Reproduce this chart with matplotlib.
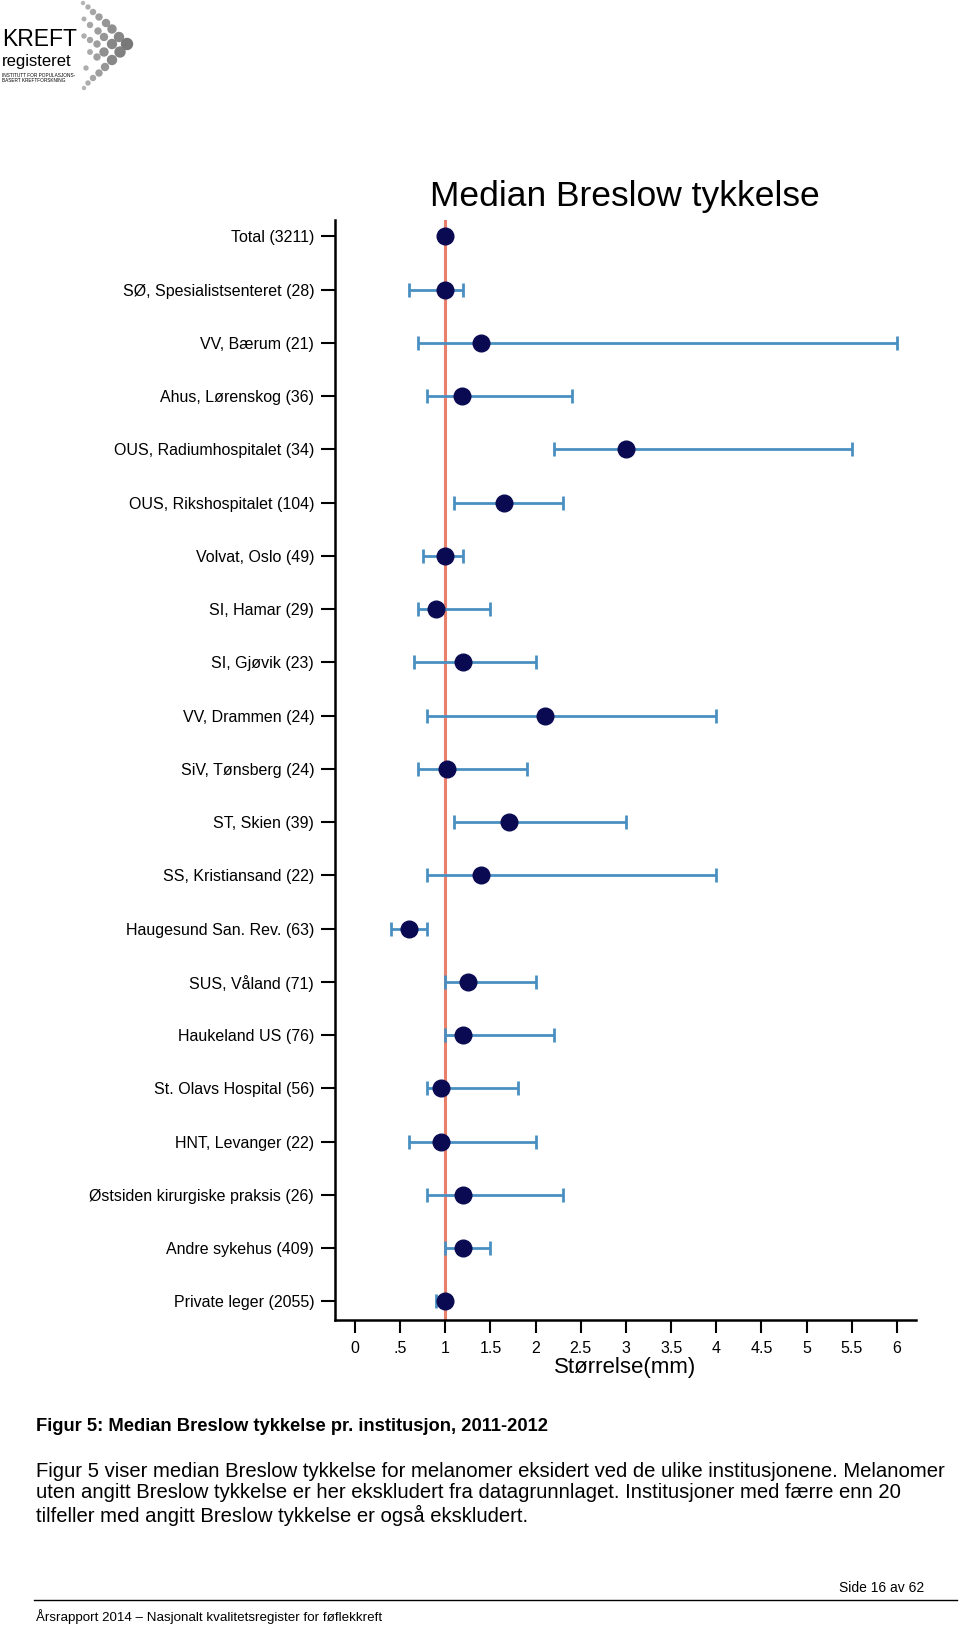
import matplotlib.pyplot as plt
import numpy as np

# Data
institutions = ['Total (3211)', 'SØ, Spesialistsenteret (28)', 'VV, Bærum (21)',
                'Ahus, Lørenskog (36)', 'OUS, Radiumhospitalet (34)',
                'OUS, Rikshospitalet (104)', 'Volvat, Oslo (49)', 'SI, Hamar (29)',
                'SI, Gjøvik (23)', 'VV, Drammen (24)', 'SiV, Tønsberg (24)',
                'ST, Skien (39)', 'SS, Kristiansand (22)', 'Haugesund San. Rev. (63)',
                'SUS, Våland (71)', 'Haukeland US (76)', 'St. Olavs Hospital (56)',
                'HNT, Levanger (22)', 'Østsiden kirurgiske praksis (26)',
                'Andre sykehus (409)', 'Private leger (2055)']
median = [1.0, 1.0, 1.4, 1.18, 3.0, 1.65, 1.0, 0.9, 1.2, 2.1, 1.02, 1.7, 1.4,
          0.6, 1.25, 1.2, 0.95, 0.95, 1.2, 1.2, 1.0]
ci_low = [1.0, 0.6, 0.7, 0.8, 2.2, 1.1, 0.75, 0.7, 0.65, 0.8, 0.7, 1.1, 0.8,
          0.4, 1.0, 1.0, 0.8, 0.6, 0.8, 1.0, 0.9]
ci_high = [1.0, 1.2, 6.0, 2.4, 5.5, 2.3, 1.2, 1.5, 2.0, 4.0, 1.9, 3.0, 4.0,
           0.8, 2.0, 2.2, 1.8, 2.0, 2.3, 1.5, 1.0]
xticks = [0, 0.5, 1, 1.5, 2, 2.5, 3, 3.5, 4, 4.5, 5, 5.5, 6]
xticklabels = ['0', '.5', '1', '1.5', '2', '2.5', '3', '3.5', '4', '4.5', '5', '5.5', '6']

plt.rcParams['font.family'] = ['Liberation Sans', 'DejaVu Sans']

fig = plt.figure(figsize=(9.6, 16.27), dpi=100)
ax = fig.add_axes([0.349, 0.1887, 0.605, 0.6761])

y = np.arange(len(institutions))
med = np.array(median)
xerr = [med - np.array(ci_low), np.array(ci_high) - med]

ax.axvline(1, color='#E8806C', lw=2.2, zorder=1)
ax.errorbar(med, y, xerr=xerr, fmt='none', ecolor='#4A8FC2', elinewidth=2,
            capsize=5, capthick=2, zorder=2)
ax.plot(med, y, 'o', color='#0A0A52', markersize=12, zorder=3)

ax.set_xlim(-0.221, 6.21)
ax.set_ylim(20.35, -0.31)
ax.set_yticks(y)
ax.set_yticklabels(institutions, fontsize=11.5)
ax.set_xticks(xticks)
ax.set_xticklabels(xticklabels, fontsize=11.5)
ax.tick_params(axis='y', length=10, width=1.5, pad=5)
ax.tick_params(axis='x', length=9, width=1.5, pad=6)
for s in ['top', 'right']:
    ax.spines[s].set_visible(False)
for s in ['left', 'bottom']:
    ax.spines[s].set_linewidth(1.8)
ax.set_xlabel('Størrelse(mm)', fontsize=16, labelpad=1)
fig.text(0.651, 0.8795, 'Median Breslow tykkelse', fontsize=25.5, ha='center', va='center')

# logo, drawn in pixel coordinates
lax = fig.add_axes([0, 1 - 95 / 1627, 140 / 960, 95 / 1627])
lax.set_xlim(0, 140)
lax.set_ylim(95, 0)
lax.axis('off')
lax.text(2, 46, 'KREFT', fontsize=16.5, va='baseline', ha='left')
lax.text(2, 66, 'registeret', fontsize=12, va='baseline', ha='left')
lax.text(2, 77, 'INSTITUTT FOR POPULASJONS-', fontsize=3.4, va='baseline', ha='left')
lax.text(2, 82.5, 'BASERT KREFTFORSKNING', fontsize=3.4, va='baseline', ha='left')
dots = [(83, 3, 1.5), (88, 7, 2), (93, 12, 2.5), (99, 17, 3), (106, 23, 3.5), (112, 29, 4),
        (119, 37, 4.5), (127, 44, 5.5),
        (84, 19, 1.8), (90, 25, 2.5), (98, 31, 3), (104, 37, 3.5), (112, 44, 4.5), (120, 52, 5),
        (84, 36, 2), (90, 40, 2.5), (97, 44, 3), (104, 52, 4), (112, 60, 4.5),
        (90, 52, 2.2), (97, 57, 3), (105, 67, 3.5),
        (99, 73, 3), (93, 78, 2.5), (88, 83, 2), (84, 88, 1.5), (86, 68, 2)]
for dx, dy, r in dots:
    shade = 0.8 - 0.06 * r
    lax.add_patch(plt.Circle((dx, dy), r, color=(shade, shade, shade)))
lax.set_aspect('equal')

# caption
fig.text(0.038, 0.1235, 'Figur 5: Median Breslow tykkelse pr. institusjon, 2011-2012',
         fontsize=13.2, fontweight='bold', va='center')
fig.text(0.038, 0.1014,
         'Figur 5 viser median Breslow tykkelse for melanomer eksidert ved de ulike institusjonene. Melanomer\n'
         'uten angitt Breslow tykkelse er her ekskludert fra datagrunnlaget. Institusjoner med færre enn 20\n'
         'tilfeller med angitt Breslow tykkelse er også ekskludert.',
         fontsize=14.6, va='top', linespacing=1.15)
fig.text(0.963, 0.024, 'Side 16 av 62', fontsize=10, ha='right', va='center')
fig.add_artist(plt.Line2D([0.035, 0.997], [0.0165, 0.0165], transform=fig.transFigure,
                          color='black', lw=1))
fig.text(0.038, 0.0065, 'Årsrapport 2014 – Nasjonalt kvalitetsregister for føflekkreft',
         fontsize=9.6, va='center')

fig.savefig('out.png', dpi=100)
